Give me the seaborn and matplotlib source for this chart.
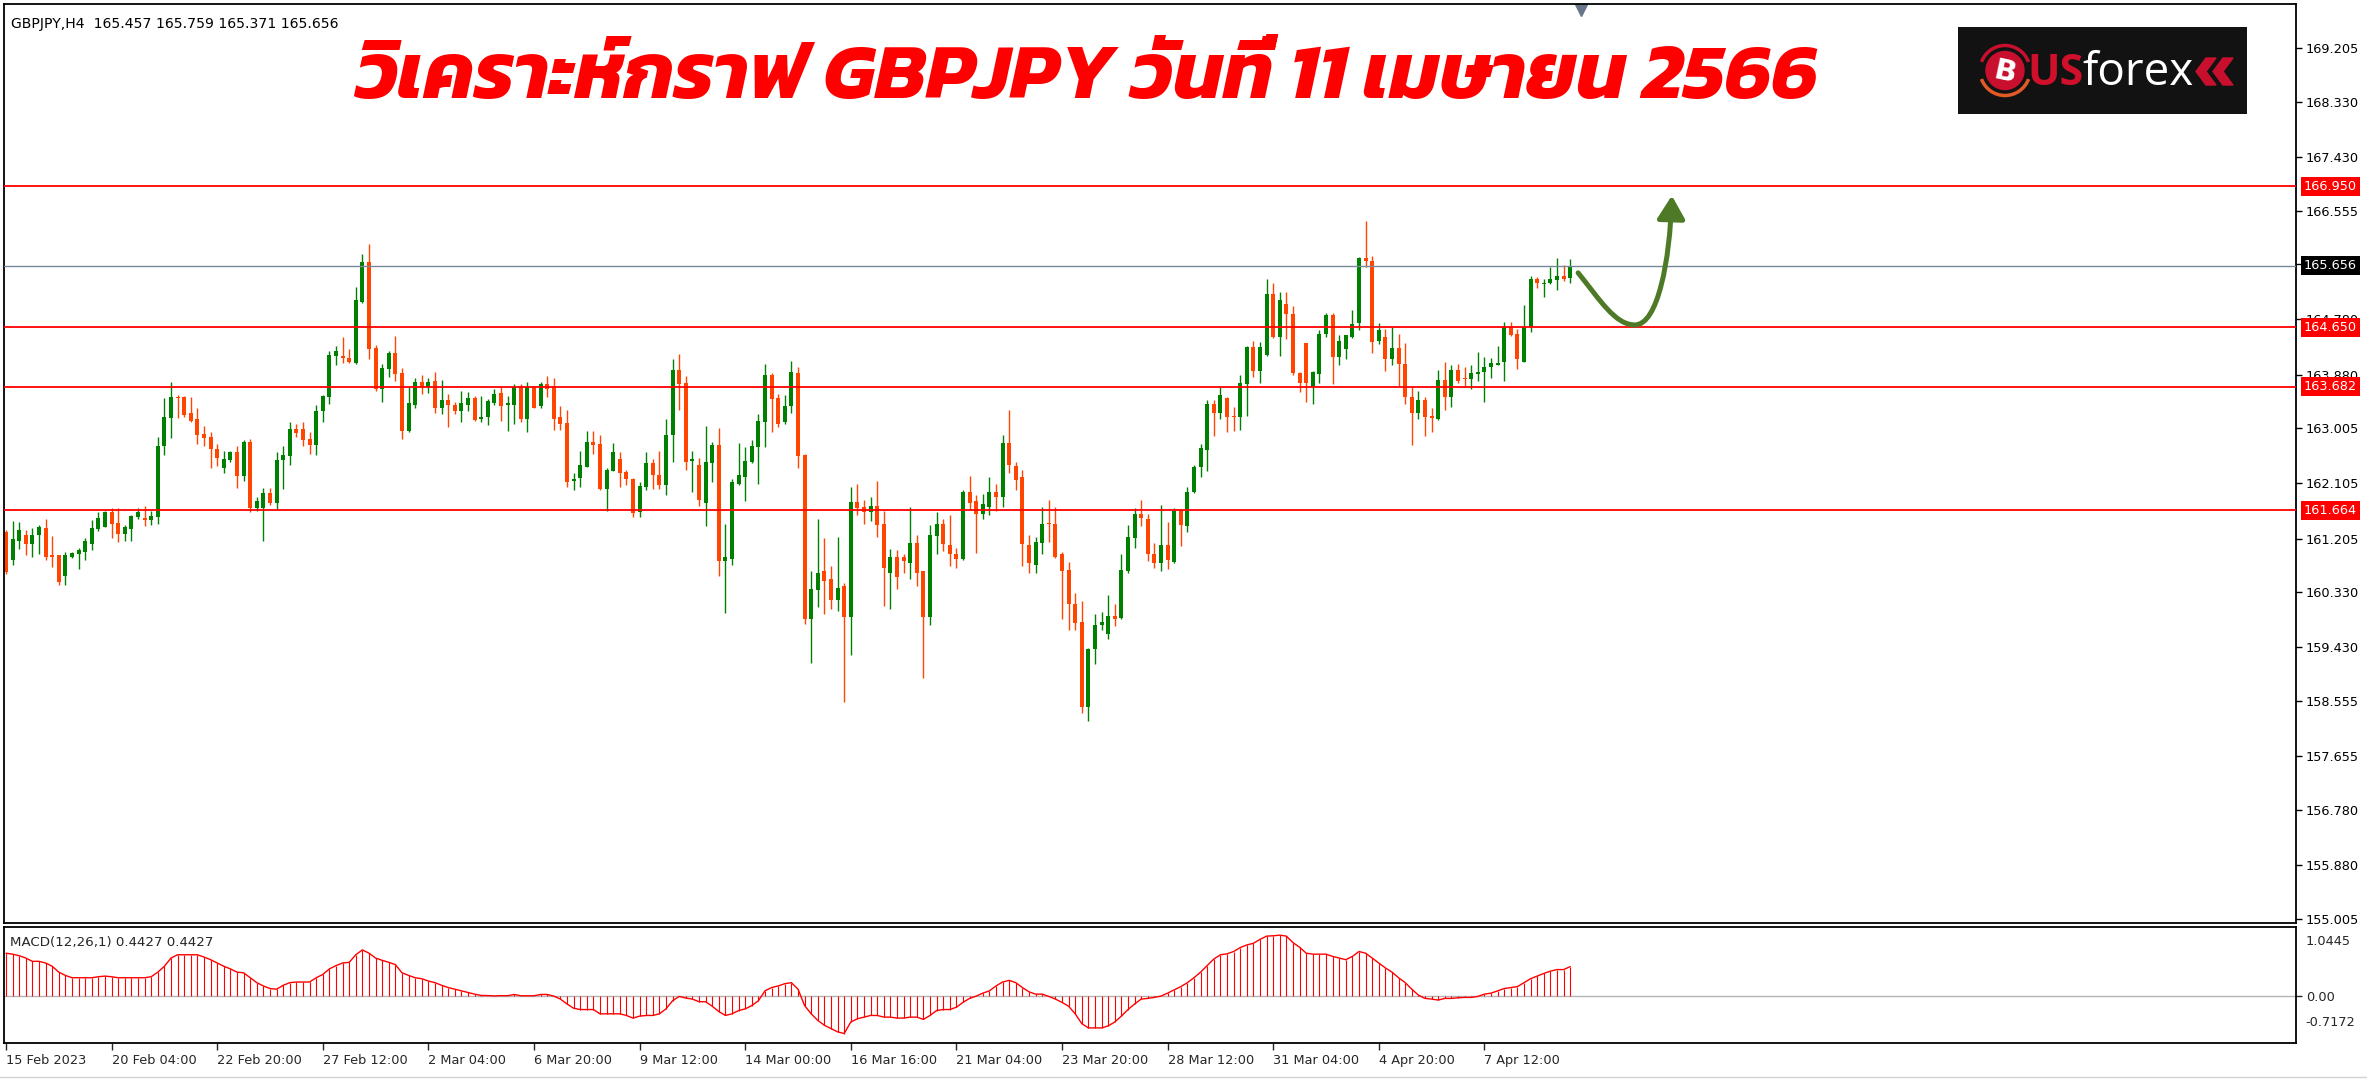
import numpy as np
import pandas as pd
import seaborn as sns
import matplotlib
matplotlib.use("Agg")
import matplotlib.pyplot as plt
import matplotlib.transforms as mtransforms
from matplotlib import font_manager
from matplotlib.ft2font import FT2Font
from matplotlib.patches import Circle, Arc, Polygon, FancyArrowPatch
from matplotlib.path import Path

# GBPJPY H4 candles (bar 0 = 15 Feb 2023)
opens = [161.31, 160.86, 161.17, 161.27, 161.12, 161.26, 161.38, 160.94, 160.93, 160.60,
         160.90, 160.96, 160.98, 161.12, 161.36, 161.39, 161.63, 161.46, 161.28, 161.36,
         161.56, 161.54, 161.50, 161.56, 162.71, 163.17, 163.51, 163.51, 163.26, 163.16,
         162.91, 162.86, 162.67, 162.35, 162.48, 162.62, 162.22, 162.78, 161.70, 161.70,
         161.95, 161.79, 162.48, 162.55, 163.00, 163.00, 162.83, 162.73, 163.28, 163.51,
         164.19, 164.18, 164.15, 164.07, 165.06, 165.71, 164.31, 163.65, 163.97, 164.24,
         163.90, 162.96, 163.39, 163.76, 163.68, 163.77, 163.34, 163.46, 163.39, 163.29,
         163.39, 163.50, 163.16, 163.18, 163.42, 163.58, 163.38, 163.39, 163.69, 163.16,
         163.68, 163.37, 163.72, 163.68, 163.18, 163.09, 162.14, 162.19, 162.38, 162.78,
         162.74, 162.02, 162.30, 162.51, 162.29, 162.18, 161.63, 162.05, 162.43, 162.24,
         162.08, 162.89, 163.95, 163.74, 162.47, 162.40, 161.78, 162.43, 162.73, 160.84,
         160.87, 162.10, 162.21, 162.45, 162.70, 163.11, 163.87, 163.49, 163.11, 163.36,
         163.90, 162.57, 159.90, 160.36, 160.67, 160.54, 160.20, 160.43, 159.92, 161.80,
         161.72, 161.63, 161.74, 161.45, 160.65, 160.91, 160.91, 160.81, 161.13, 160.67,
         159.92, 161.24, 161.45, 161.10, 160.96, 160.87, 161.97, 161.81, 161.60, 161.72,
         161.96, 161.88, 162.77, 162.39, 162.21, 161.10, 160.78, 161.14, 161.45, 161.45,
         160.95, 160.69, 160.13, 159.84, 158.45, 159.40, 159.79, 159.64, 159.94, 159.91,
         160.68, 161.22, 161.61, 161.53, 160.96, 160.81, 161.10, 160.83, 161.67, 161.41,
         161.96, 162.37, 162.65, 163.40, 163.25, 163.50, 163.21, 163.18, 163.73, 164.33,
         163.94, 164.20, 165.19, 164.50, 165.03, 164.87, 163.90, 164.39, 163.68, 163.89,
         164.54, 164.85, 164.16, 164.30, 164.49, 164.72, 165.78, 165.74, 164.43, 164.50,
         164.13, 164.31, 164.06, 163.52, 163.25, 163.47, 163.21, 163.16, 163.79, 163.51,
         163.95, 163.82, 163.81, 163.89, 163.92, 164.00, 164.04, 164.08, 164.66, 164.55,
         164.09, 164.65, 165.44, 165.36, 165.37, 165.42, 165.49, 165.457]
highs = [161.34, 161.49, 161.47, 161.35, 161.38, 161.42, 161.52, 161.25, 160.94, 160.98,
         160.99, 161.05, 161.21, 161.50, 161.63, 161.66, 161.70, 161.70, 161.43, 161.59,
         161.70, 161.73, 161.65, 162.86, 163.50, 163.76, 163.54, 163.53, 163.51, 163.33,
         163.04, 162.95, 162.75, 162.63, 162.63, 162.72, 162.81, 162.83, 161.89, 162.03,
         162.03, 162.62, 162.72, 163.10, 163.08, 163.10, 162.94, 163.38, 163.54, 164.26,
         164.34, 164.50, 164.29, 165.31, 165.85, 166.01, 164.37, 164.06, 164.26, 164.51,
         163.98, 163.67, 163.82, 163.87, 163.82, 163.93, 163.79, 163.56, 163.44, 163.61,
         163.60, 163.53, 163.53, 163.48, 163.64, 163.67, 163.53, 163.72, 163.73, 163.76,
         163.69, 163.76, 163.86, 163.82, 163.36, 163.31, 162.28, 162.64, 162.96, 162.96,
         162.90, 162.36, 162.77, 162.62, 162.32, 162.20, 162.13, 162.62, 162.51, 162.64,
         163.15, 164.14, 164.22, 163.85, 162.64, 162.52, 163.04, 162.78, 163.01, 161.45,
         162.18, 162.77, 162.70, 162.81, 163.23, 164.06, 163.91, 163.56, 163.55, 164.10,
         164.00, 162.59, 160.67, 161.52, 161.22, 160.76, 161.23, 160.48, 162.04, 162.10,
         161.83, 161.88, 162.15, 161.65, 161.04, 161.02, 160.96, 161.72, 161.26, 160.67,
         161.43, 161.64, 161.53, 161.59, 161.05, 162.00, 162.23, 161.91, 161.93, 162.21,
         162.10, 162.89, 163.31, 162.45, 162.33, 161.26, 161.23, 161.72, 161.83, 161.72,
         160.99, 160.83, 160.32, 160.19, 159.42, 159.97, 160.00, 160.29, 160.13, 160.96,
         161.43, 161.70, 161.83, 161.61, 161.13, 161.75, 161.48, 161.70, 161.67, 162.04,
         162.41, 162.75, 163.47, 163.46, 163.67, 163.52, 163.35, 163.88, 164.35, 164.43,
         164.41, 165.44, 165.37, 165.22, 165.23, 165.00, 163.92, 164.39, 163.94, 164.60,
         164.88, 164.88, 164.53, 164.53, 164.93, 165.80, 166.38, 165.82, 164.72, 164.62,
         164.65, 164.55, 164.39, 163.67, 163.61, 163.52, 163.33, 163.95, 164.09, 164.04,
         164.05, 164.01, 164.04, 164.25, 164.16, 164.15, 164.34, 164.74, 164.74, 164.63,
         165.01, 165.49, 165.48, 165.44, 165.64, 165.79, 165.67, 165.759]
lows = [160.63, 160.77, 161.04, 160.93, 160.91, 160.96, 160.85, 160.74, 160.45, 160.45,
        160.88, 160.71, 160.85, 161.01, 161.32, 161.39, 161.22, 161.15, 161.16, 161.17,
        161.53, 161.41, 161.43, 161.45, 162.57, 162.84, 163.17, 163.19, 163.10, 162.74,
        162.72, 162.35, 162.39, 162.28, 162.46, 162.03, 162.14, 161.64, 161.66, 161.17,
        161.76, 161.68, 162.02, 162.41, 162.86, 162.71, 162.59, 162.57, 163.10, 163.40,
        164.03, 164.07, 164.07, 164.06, 165.04, 164.14, 163.61, 163.43, 163.84, 163.78,
        162.83, 162.95, 163.34, 163.56, 163.58, 163.26, 163.24, 163.02, 163.24, 163.11,
        163.29, 163.12, 163.11, 163.05, 163.38, 163.13, 162.96, 163.08, 163.11, 162.94,
        163.34, 163.34, 163.51, 162.97, 162.97, 162.05, 162.00, 162.05, 162.38, 162.58,
        162.00, 161.66, 162.30, 162.05, 162.08, 161.56, 161.56, 162.00, 162.02, 162.02,
        161.92, 162.46, 163.31, 162.32, 161.97, 161.73, 161.41, 162.13, 160.59, 159.99,
        160.78, 162.08, 161.81, 162.43, 162.10, 162.70, 162.94, 163.02, 163.07, 163.25,
        162.35, 159.81, 159.17, 160.09, 159.98, 160.06, 160.02, 158.53, 159.30, 161.59,
        161.44, 161.49, 161.23, 160.10, 160.06, 160.38, 160.65, 160.54, 160.43, 158.93,
        159.79, 160.95, 161.00, 160.76, 160.73, 160.86, 161.67, 160.97, 161.52, 161.59,
        161.66, 161.72, 162.27, 162.00, 160.76, 160.65, 160.65, 160.95, 161.15, 160.89,
        159.90, 159.71, 159.71, 158.36, 158.23, 159.15, 159.71, 159.56, 159.78, 159.90,
        160.65, 161.05, 161.41, 160.84, 160.73, 160.68, 160.70, 160.81, 161.09, 161.31,
        161.94, 162.21, 162.31, 162.87, 163.16, 162.95, 162.96, 162.98, 163.21, 163.84,
        163.75, 164.19, 164.48, 164.19, 164.46, 163.88, 163.60, 163.44, 163.40, 163.74,
        164.49, 163.73, 164.03, 164.13, 164.48, 164.60, 165.63, 164.24, 164.38, 163.94,
        164.03, 163.70, 163.40, 162.73, 163.16, 162.87, 162.95, 163.14, 163.30, 163.35,
        163.75, 163.69, 163.64, 163.78, 163.44, 163.83, 164.04, 163.78, 164.51, 163.97,
        164.08, 164.57, 165.29, 165.15, 165.36, 165.26, 165.40, 165.371]
closes = [160.66, 161.19, 161.35, 161.12, 161.27, 161.39, 160.90, 160.90, 160.50, 160.93,
          160.97, 161.01, 161.17, 161.38, 161.54, 161.63, 161.45, 161.28, 161.39, 161.57,
          161.63, 161.50, 161.57, 162.72, 163.19, 163.51, 163.50, 163.22, 163.13, 162.90,
          162.84, 162.66, 162.52, 162.51, 162.62, 162.22, 162.78, 161.70, 161.81, 161.95,
          161.79, 162.48, 162.56, 163.00, 162.93, 162.82, 162.73, 163.29, 163.53, 164.20,
          164.26, 164.15, 164.08, 165.09, 165.71, 164.30, 163.64, 163.99, 164.24, 163.89,
          162.96, 163.42, 163.76, 163.68, 163.76, 163.34, 163.46, 163.38, 163.29, 163.42,
          163.50, 163.14, 163.18, 163.45, 163.56, 163.37, 163.42, 163.68, 163.15, 163.68,
          163.34, 163.72, 163.64, 163.16, 163.08, 162.13, 162.18, 162.40, 162.78, 162.73,
          162.02, 162.32, 162.62, 162.27, 162.17, 161.62, 162.07, 162.43, 162.24, 162.08,
          162.90, 163.95, 163.72, 162.46, 162.51, 161.83, 162.45, 162.73, 160.84, 160.91,
          162.13, 162.24, 162.47, 162.71, 163.12, 163.87, 163.48, 163.07, 163.36, 163.93,
          162.55, 159.90, 160.38, 160.65, 160.52, 160.20, 160.40, 159.92, 161.80, 161.71,
          161.63, 161.74, 161.43, 160.73, 160.91, 160.58, 160.84, 161.13, 160.65, 159.92,
          161.26, 161.45, 161.11, 160.95, 160.87, 161.97, 161.78, 161.60, 161.77, 161.97,
          161.88, 162.77, 162.40, 162.16, 161.11, 160.81, 161.15, 161.45, 161.44, 160.91,
          160.68, 160.13, 159.82, 158.45, 159.41, 159.80, 159.84, 159.94, 159.90, 160.69,
          161.23, 161.61, 161.54, 160.95, 160.81, 161.10, 160.85, 161.65, 161.43, 161.97,
          162.38, 162.68, 163.40, 163.25, 163.55, 163.18, 163.18, 163.74, 164.33, 163.94,
          164.33, 165.19, 164.50, 165.09, 164.87, 163.90, 163.74, 163.74, 163.92, 164.55,
          164.85, 164.16, 164.42, 164.52, 164.70, 165.79, 165.73, 164.41, 164.61, 164.13,
          164.31, 164.05, 163.51, 163.25, 163.47, 163.19, 163.17, 163.79, 163.51, 163.95,
          163.78, 163.81, 163.90, 163.93, 164.01, 164.07, 164.07, 164.66, 164.52, 164.13,
          164.65, 165.44, 165.37, 165.38, 165.44, 165.49, 165.44, 165.656]

# MACD(12,26,1) main line, one value per bar
macd = [0.647, 0.632, 0.608, 0.573, 0.523, 0.523, 0.498, 0.448, 0.359, 0.309,
        0.274, 0.274, 0.274, 0.274, 0.289, 0.299, 0.289, 0.274, 0.274, 0.274,
        0.274, 0.274, 0.289, 0.359, 0.448, 0.573, 0.623, 0.623, 0.623, 0.623,
        0.588, 0.548, 0.498, 0.448, 0.408, 0.359, 0.349, 0.274, 0.199, 0.149,
        0.110, 0.100, 0.159, 0.199, 0.209, 0.209, 0.209, 0.274, 0.324, 0.408,
        0.458, 0.498, 0.508, 0.623, 0.697, 0.647, 0.573, 0.538, 0.508, 0.473,
        0.349, 0.309, 0.274, 0.259, 0.224, 0.199, 0.159, 0.125, 0.100, 0.075,
        0.050, 0.025, 0.005, 0.003, -0.002, 0.002, 0.000, 0.020, 0.000, 0.000,
        0.000, 0.020, 0.020, -0.005, -0.050, -0.125, -0.189, -0.209, -0.209, -0.209,
        -0.274, -0.274, -0.274, -0.274, -0.299, -0.339, -0.309, -0.299, -0.299, -0.274,
        -0.199, -0.075, -0.010, -0.035, -0.050, -0.090, -0.090, -0.159, -0.239, -0.299,
        -0.274, -0.224, -0.199, -0.149, -0.075, 0.075, 0.125, 0.149, 0.184, 0.199,
        0.100, -0.149, -0.274, -0.374, -0.448, -0.498, -0.548, -0.573, -0.398, -0.349,
        -0.324, -0.299, -0.299, -0.324, -0.324, -0.339, -0.339, -0.324, -0.324, -0.359,
        -0.299, -0.224, -0.209, -0.209, -0.174, -0.100, -0.040, -0.005, 0.040, 0.075,
        0.149, 0.209, 0.234, 0.199, 0.125, 0.060, 0.025, 0.025, -0.010, -0.050,
        -0.100, -0.159, -0.274, -0.423, -0.488, -0.488, -0.488, -0.458, -0.398, -0.309,
        -0.209, -0.125, -0.050, -0.040, -0.025, -0.005, 0.040, 0.090, 0.139, 0.199,
        0.274, 0.359, 0.458, 0.558, 0.623, 0.637, 0.672, 0.732, 0.772, 0.797,
        0.857, 0.906, 0.911, 0.921, 0.906, 0.807, 0.737, 0.647, 0.632, 0.632,
        0.632, 0.598, 0.573, 0.548, 0.598, 0.672, 0.647, 0.573, 0.498, 0.423,
        0.359, 0.274, 0.199, 0.100, 0.010, -0.040, -0.050, -0.065, -0.040, -0.040,
        -0.030, -0.025, -0.025, -0.010, 0.025, 0.040, 0.075, 0.110, 0.125, 0.139,
        0.199, 0.259, 0.299, 0.339, 0.374, 0.398, 0.398, 0.4427]

time_labels = ["15 Feb 2023", "20 Feb 04:00", "22 Feb 20:00", "27 Feb 12:00", "2 Mar 04:00",
               "6 Mar 20:00", "9 Mar 12:00", "14 Mar 00:00", "16 Mar 16:00", "21 Mar 04:00",
               "23 Mar 20:00", "28 Mar 12:00", "31 Mar 04:00", "4 Apr 20:00", "7 Apr 12:00"]
price_ticks = [169.205, 168.330, 167.430, 166.555, 165.680, 164.780, 163.880, 163.005,
               162.105, 161.205, 160.330, 159.430, 158.555, 157.655, 156.780, 155.880, 155.005]
levels = [166.950, 164.650, 163.682, 161.664]
last_price = 165.656

title = "วิเคราะห์กราฟ GBPJPY วันที่ 11 เมษายน 2566"

df = pd.DataFrame({"open": opens, "high": highs, "low": lows, "close": closes, "macd": macd})
df["bar"] = np.arange(len(df))
df["up"] = df["close"] >= df["open"]

sns.set_theme(style="white")
plt.rcParams["font.family"] = ["DejaVu Sans"]


# look for any installed font that has thai glyphs
def find_thai():
    names = []
    for f in font_manager.fontManager.ttflist:
        try:
            if 0x0E27 in FT2Font(f.fname).get_charmap():
                names.append(f.name)
        except Exception:
            pass
    for pref in ["Kanit", "Prompt", "Noto Sans Thai", "Noto Sans Thai Looped", "Sarabun",
                 "Loma", "Garuda", "Waree", "Umpush", "Tlwg Typo"]:
        if pref in names:
            return pref
    return names[0] if names else None


thai = find_thai()
title_fam = [thai, "DejaVu Sans"] if thai else ["DejaVu Sans"]

W, H = 2367, 1080
fig = plt.figure(figsize=(W / 100, H / 100), dpi=100)
fig.patch.set_facecolor("white")

left, right = 4, 2296
ax = fig.add_axes([left / W, 1 - 923 / H, (right - left) / W, (923 - 4) / H])
ax2 = fig.add_axes([left / W, 1 - 1043 / H, (right - left) / W, (1043 - 927) / H])

x0, dx = 6, 6.6   # pixel of bar 0, pixels per bar
xlim = ((left - x0) / dx, (right - x0) / dx)

bull, bear = "#008000", "#ff4500"
cols = np.where(df["up"], bull, bear)

# candles
ax.vlines(df["bar"], df["low"], df["high"], colors=cols, lw=1.0, zorder=2)
body = (df["close"] - df["open"]).abs().clip(lower=0.016)
ax.bar(df["bar"], body, bottom=df[["open", "close"]].min(axis=1), width=0.6,
       color=cols, lw=0, zorder=2)

for lv in levels:
    ax.axhline(lv, color="#ff0000", lw=1.3, zorder=3)
ax.axhline(last_price, color="#778899", lw=1.0, zorder=3)

ax.set_xlim(*xlim)
ax.set_ylim(154.932, 169.926)
ax.set_xticks([])
ax.yaxis.tick_right()
ax.set_yticks(price_ticks)
ax.set_yticklabels([f"{p:.3f}" for p in price_ticks])
ax.tick_params(axis="y", direction="out", length=4, width=1, color="black",
               labelsize=9.3, pad=3, labelcolor="black", right=True)
for s in ax.spines.values():
    s.set_color("black")
    s.set_linewidth(1.3)

# price tags on the right scale
yx = mtransforms.blended_transform_factory(ax.transAxes, ax.transData)
for lv in levels:
    ax.text(1.0035, lv, f"{lv:.3f}", transform=yx, ha="left", va="center", color="white",
            fontsize=9.3, clip_on=False, zorder=6,
            bbox=dict(boxstyle="square,pad=0.22", fc="#ff0000", ec="none"))
ax.text(1.0035, last_price, f"{last_price:.3f}", transform=yx, ha="left", va="center",
        color="white", fontsize=9.3, clip_on=False, zorder=6,
        bbox=dict(boxstyle="square,pad=0.22", fc="black", ec="none"))

# chart shift marker
ax.plot([238.6], [0.993], marker="v", ms=9, color="#69768a", clip_on=False,
        transform=mtransforms.blended_transform_factory(ax.transData, ax.transAxes))

# expected move arrow (bar index, price)
arrow_path = Path([(238.2, 165.54), (241.5, 165.10), (243.8, 164.69), (246.8, 164.69),
                   (250.3, 164.69), (252.1, 165.75), (252.4, 166.80)],
                  [Path.MOVETO, Path.CURVE4, Path.CURVE4, Path.CURVE4,
                   Path.CURVE4, Path.CURVE4, Path.CURVE4])
ax.add_patch(FancyArrowPatch(path=arrow_path, arrowstyle="-|>,head_length=0.7,head_width=0.42",
                             mutation_scale=20, lw=3.6, color="#4e7a27", zorder=5))

# MACD panel
ax2.vlines(df["bar"], 0, df["macd"], colors="#ff0000", lw=0.8)
sns.lineplot(x=df["bar"], y=df["macd"], ax=ax2, color="#ff0000", lw=1.0)
ax2.axhline(0, color="#b4b4b4", lw=1.0, zorder=0)
ax2.set_xlim(*xlim)
ax2.set_ylim(-0.7172, 1.0445)
ax2.set_xlabel("")
ax2.set_ylabel("")
ax2.yaxis.tick_right()
ax2.set_yticks([0])
ax2.set_yticklabels(["0.00"])
ax2.tick_params(axis="y", direction="out", length=4, width=1, labelsize=9.3, pad=3, right=True)
ax2.text(1.004, 0.879, "1.0445", transform=ax2.transAxes, ha="left", va="center", fontsize=9.3)
ax2.text(1.004, 0.181, "-0.7172", transform=ax2.transAxes, ha="left", va="center", fontsize=9.3)
ax2.text(0.0025, 0.865, "MACD(12,26,1) 0.4427 0.4427", transform=ax2.transAxes,
         ha="left", va="center", fontsize=9.6)
tick_bars = np.arange(len(time_labels)) * 16
ax2.set_xticks(tick_bars)
ax2.set_xticklabels(time_labels, ha="left")
ax2.tick_params(axis="x", direction="out", length=5, width=1, labelsize=9.3, pad=3, bottom=True)
for s in ax2.spines.values():
    s.set_color("black")
    s.set_linewidth(1.3)

# header and title
fig.text(11 / W, 1 - 24 / H, "GBPJPY,H4  165.457 165.759 165.371 165.656",
         fontsize=10.1, ha="left", va="center", color="black")
fig.text(1087 / W, 1 - 80 / H, title, color="#ff0000", fontsize=57, fontweight="bold",
         style="italic", family=title_fam, ha="center", va="center")

# busforex logo
lg = fig.add_axes([1958 / W, 1 - 114 / H, 289 / W, 87 / H])
lg.set_xlim(0, 289)
lg.set_ylim(87, 0)
lg.set_facecolor("#121212")
lg.set_xticks([])
lg.set_yticks([])
for s in lg.spines.values():
    s.set_visible(False)
lg.add_patch(Arc((47, 43.5), 50, 50, theta1=200, theta2=340, color="#c8102e", lw=2.5))
lg.add_patch(Arc((47, 43.5), 50, 50, theta1=20, theta2=160, color="#e25a26", lw=2.5))
lg.add_patch(Circle((47, 43.5), 19, color="#c8102e"))
lg.text(47, 45, "B", color="white", fontsize=21, fontweight="bold", ha="center", va="center",
        rotation=-12, family="DejaVu Sans")
lg.text(69, 58, "US", color="#d0102a", fontsize=31, fontweight="bold", ha="left",
        va="baseline", family="Open Sans")
lg.text(124, 58, "forex", color="white", fontsize=33, ha="left", va="baseline", family="Open Sans")
for off in (0, 17):
    lg.add_patch(Polygon([(248 + off, 31), (258 + off, 31), (248 + off, 44.5), (258 + off, 58),
                          (248 + off, 58), (238 + off, 44.5)], closed=True, color="#c8102e"))

fig.add_artist(plt.Line2D([0, 1], [1 - 1077 / H] * 2, color="#d4d4d4", lw=1))

fig.savefig("out.png", dpi=100)
